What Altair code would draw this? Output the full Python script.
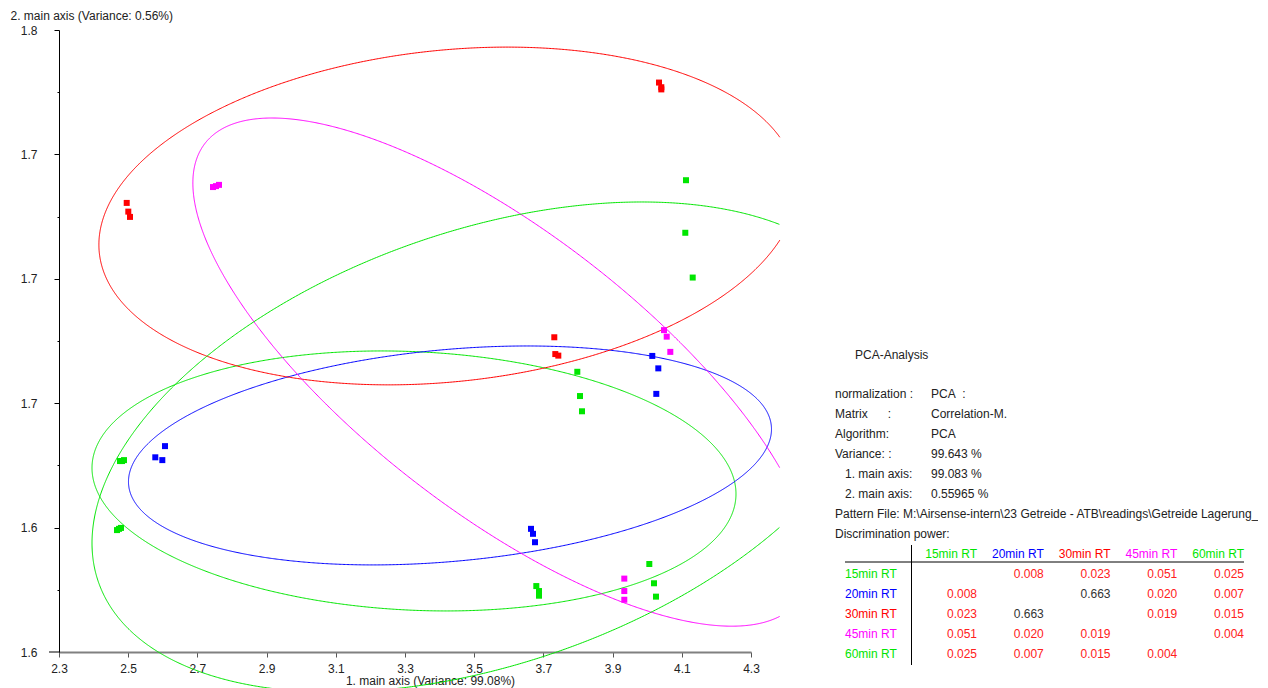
import altair as alt
import numpy as np
import pandas as pd

FONT = "Liberation Sans"
TXT = "#222222"

# ---------------- data ----------------
groups = ["15min RT", "20min RT", "30min RT", "45min RT", "60min RT"]
group_colors = ["#00e600", "#0000ff", "#ff0000", "#ff00ff", "#00e600"]

# scores on the 1st / 2nd main axis
g15_x = [2.4763, 2.4821, 2.4879, 3.7980, 3.8058, 3.8116, 3.6795, 3.6873, 3.6873]
g15_y = [1.6414, 1.6414, 1.6417, 1.6701, 1.6623, 1.6574, 1.6012, 1.5996, 1.5981]
g20_x = [2.6064, 2.5783, 2.5986, 3.6642, 3.6699, 3.6757, 4.0147, 4.0321, 4.0263]
g20_y = [1.6462, 1.6426, 1.6417, 1.6196, 1.6180, 1.6153, 1.6752, 1.6712, 1.6630]
g30_x = [2.4957, 2.5003, 2.5052, 4.0341, 4.0408, 4.0408, 3.7315, 3.7344, 3.7431]
g30_y = [1.7244, 1.7216, 1.7199, 1.7631, 1.7616, 1.7609, 1.6812, 1.6758, 1.6753]
g45_x = [2.7451, 2.7538, 2.7624, 4.0486, 4.0564, 4.0668, 3.9338, 3.9338, 3.9338]
g45_y = [1.7295, 1.7298, 1.7302, 1.6835, 1.6814, 1.6765, 1.6036, 1.5996, 1.5968]
g60_x = [2.4676, 2.4734, 2.4792, 4.1121, 4.1101, 4.1315, 4.0061, 4.0197, 4.0254]
g60_y = [1.6192, 1.6196, 1.6199, 1.7317, 1.7148, 1.7004, 1.6083, 1.6021, 1.5978]

# confidence ellipses: centre, half extents along the axes, correlation
ell_cx = [3.326, 3.430, 3.424, 3.580, 3.537]
ell_cy = [1.6350, 1.6432, 1.7202, 1.6700, 1.6459]
ell_rx = [0.9306, 0.9292, 1.0087, 0.8931, 1.1416]
ell_ry = [0.0418, 0.0352, 0.0543, 0.0817, 0.0788]
ell_r = [-0.10, 0.24, 0.17, -0.744, 0.392]
ell_xmax = 4.3838  # drawing window of the ellipses on the right

x_major = [2.3, 2.5, 2.7, 2.9, 3.1, 3.3, 3.5, 3.7, 3.9, 4.1, 4.3]
x_minor = [2.4, 2.6, 2.8, 3.0, 3.2, 3.4, 3.6, 3.8, 4.0, 4.2]
y_major = [1.58, 1.62, 1.66, 1.70, 1.74, 1.78]
y_minor = [1.60, 1.64, 1.68, 1.72, 1.76]

x_title = "1. main axis (Variance: 99.08%)"
y_title = "2. main axis (Variance: 0.56%)"

panel_title = "PCA-Analysis"
NB = "\u00a0"
info_keys = ["normalization :", "Matrix" + NB * 6 + ":", "Algorithm:", "Variance: :",
             "1. main axis:", "2. main axis:", "Pattern File:",
             "Discrimination power:"]
info_key_kind = ["plain", "plain", "plain", "plain", "indent", "indent", "plain", "plain"]
info_values = ["PCA" + NB * 2 + ":", "Correlation-M.", "PCA", "99.643 %", "99.083 %",
               "0.55965 %",
               "M:\\Airsense-intern\\23 Getreide - ATB\\readings\\Getreide Lagerung_", ""]
info_kind = ["setting"] * 6 + ["path", "setting"]

disc = [
    [None, 0.008, 0.023, 0.051, 0.025],
    [0.008, None, 0.663, 0.020, 0.007],
    [0.023, 0.663, None, 0.019, 0.015],
    [0.051, 0.020, 0.019, None, 0.004],
    [0.025, 0.007, 0.015, 0.004, None],
]

# ---------------- tables ----------------
pts = []
for g, xs, ys in zip(groups, [g15_x, g20_x, g30_x, g45_x, g60_x],
                     [g15_y, g20_y, g30_y, g45_y, g60_y]):
    for a, b in zip(xs, ys):
        pts.append({"group": g, "x": a, "y": b})
pts_df = pd.DataFrame(pts)

ell_rows = []
t = np.linspace(0, 2 * np.pi, 1441)
for gi, g in enumerate(groups):
    r = ell_r[gi]
    xs = ell_cx[gi] + ell_rx[gi] * np.cos(t)
    ys = ell_cy[gi] + ell_ry[gi] * (r * np.cos(t) + np.sqrt(1 - r * r) * np.sin(t))
    seg, prev = 0, False
    for i in range(len(t)):
        inside = xs[i] <= ell_xmax
        if inside:
            if not prev:
                seg += 1
            ell_rows.append({"group": g, "seg": f"{g}-{seg}", "i": i,
                             "x": float(xs[i]), "y": float(ys[i])})
        prev = inside
ell_df = pd.DataFrame(ell_rows)

info_df = pd.DataFrame({"k": info_keys, "kk": info_key_kind, "v": info_values, "kind": info_kind})

cell_rows = []
for ri, rg in enumerate(groups):
    for ci, cg in enumerate(groups):
        v = disc[ri][ci]
        if v is None:
            continue
        cell_rows.append({"row": rg, "col": cg, "txt": f"{v:.3f}",
                          "level": "high" if v > 0.5 else "low"})
cell_df = pd.DataFrame(cell_rows)
grp_df = pd.DataFrame({"group": groups})
one = pd.DataFrame({"t": [panel_title]})

# ---------------- chart ----------------
x_scale = alt.Scale(domain=[2.3, 4.3], nice=False, zero=False)
y_scale = alt.Scale(domain=[1.58, 1.78], nice=False, zero=False)
col_scale = alt.Scale(domain=groups, range=group_colors)

x_minor_js = "[" + ",".join(str(v) for v in x_minor) + "]"
y_minor_js = "[" + ",".join(str(v) for v in y_minor) + "]"

x_axis = alt.Axis(
    values=sorted(x_major + x_minor),
    labelExpr=f"indexof({x_minor_js}, datum.value) >= 0 ? '' : format(datum.value, '.1f')",
    tickSize={"condition": {"test": f"indexof({x_minor_js}, datum.value) >= 0", "value": 2}, "value": 5},
    tickColor="#555555", domainColor="#808080", domainWidth=2,
    labelFont=FONT, labelFontSize=12, labelColor=TXT, labelPadding=6, labelFlush=False,
    grid=False, title=x_title, titleFont=FONT, titleFontSize=12, titleFontWeight="normal",
    titleColor=TXT, titleX=371, titleY=28, titleBaseline="middle", titleAlign="center",
)
y_axis = alt.Axis(
    values=sorted(y_major + y_minor),
    labelExpr=f"indexof({y_minor_js}, datum.value) >= 0 ? '' : format(datum.value, '.1f')",
    tickSize={"condition": {"test": f"indexof({y_minor_js}, datum.value) >= 0", "value": 2}, "value": 5},
    tickColor="#000000", domainColor="#000000", domainWidth=1,
    labelFont=FONT, labelFontSize=12, labelColor=TXT, labelPadding=17, labelFlush=False,
    grid=False, title=y_title, titleFont=FONT, titleFontSize=12, titleFontWeight="normal",
    titleColor=TXT, titleAngle=0, titleAlign="left", titleBaseline="middle",
    titleX=-49, titleY=-15,
)

ellipses = alt.Chart(ell_df).mark_line(strokeWidth=1, clip=False).encode(
    x=alt.X("x:Q", scale=x_scale, axis=x_axis),
    y=alt.Y("y:Q", scale=y_scale, axis=y_axis),
    color=alt.Color("group:N", scale=col_scale, legend=None),
    detail="seg:N",
    order="i:Q",
)
points = alt.Chart(pts_df).mark_square(size=36, opacity=1).encode(
    x=alt.X("x:Q", scale=x_scale),
    y=alt.Y("y:Q", scale=y_scale),
    color=alt.Color("group:N", scale=col_scale, legend=None),
)
main = alt.layer(ellipses, points)

# short extension of the x-axis line to the left of the y axis
axis_ext = alt.Chart(one).mark_rule(color="#808080", strokeWidth=2).encode(
    x=alt.value(-10), x2=alt.value(0), y=alt.value(622))

txt = dict(font=FONT, fontSize=12, baseline="middle")

title_layer = alt.Chart(one).mark_text(align="left", color=TXT, **txt).encode(
    x=alt.value(796), y=alt.value(325), text="t:N")

info_y = alt.Y("k:N", scale=alt.Scale(type="point", domain=info_keys, range=[364, 504], padding=0), axis=None)
info_k = alt.Chart(info_df).mark_text(align="left", color=TXT, **txt).encode(
    x=alt.X("kk:N", scale=alt.Scale(type="point", domain=["plain", "indent"], range=[776, 786], padding=0), axis=None),
    y=info_y, text="k:N")
info_v = alt.Chart(info_df).mark_text(align="left", color=TXT, **txt).encode(
    x=alt.X("kind:N", scale=alt.Scale(type="point", domain=["setting", "path"], range=[872, 844], padding=0), axis=None),
    y=info_y, text="v:N")

tcol = alt.Scale(type="point", domain=groups, range=[918, 1185], padding=0)
trow = alt.Scale(type="point", domain=groups, range=[544, 624], padding=0)

header = alt.Chart(grp_df).mark_text(align="right", **txt).encode(
    x=alt.X("group:N", scale=tcol, axis=None), y=alt.value(524), text="group:N",
    color=alt.Color("group:N", scale=col_scale, legend=None))
rowlab = alt.Chart(grp_df).mark_text(align="left", **txt).encode(
    x=alt.value(786), y=alt.Y("group:N", scale=trow, axis=None), text="group:N",
    color=alt.Color("group:N", scale=col_scale, legend=None))
cells = alt.Chart(cell_df).mark_text(align="right", **txt).encode(
    x=alt.X("col:N", scale=tcol, axis=None), y=alt.Y("row:N", scale=trow, axis=None),
    text="txt:N",
    color=alt.Color("level:N", scale=alt.Scale(domain=["low", "high"], range=["#ff2020", "#333333"]), legend=None))
hrule = alt.Chart(one).mark_rule(color="#000000", strokeWidth=1).encode(
    x=alt.value(786), x2=alt.value(1185), y=alt.value(532))
vrule = alt.Chart(one).mark_rule(color="#000000", strokeWidth=1).encode(
    x=alt.value(852.5), y=alt.value(515), y2=alt.value(635))

chart = alt.layer(
    main, axis_ext, title_layer, info_k, info_v, header, rowlab, cells, hrule, vrule
).resolve_scale(
    x="independent", y="independent", color="independent"
).properties(
    width=692, height=622,
    padding={"left": 51, "top": 22, "right": 507, "bottom": 36},
    autosize=alt.AutoSizeParams(type="none"),
    background="#ffffff",
).configure_view(stroke=None)

chart.save("out.html", embed_options={"renderer": "svg", "actions": False})
